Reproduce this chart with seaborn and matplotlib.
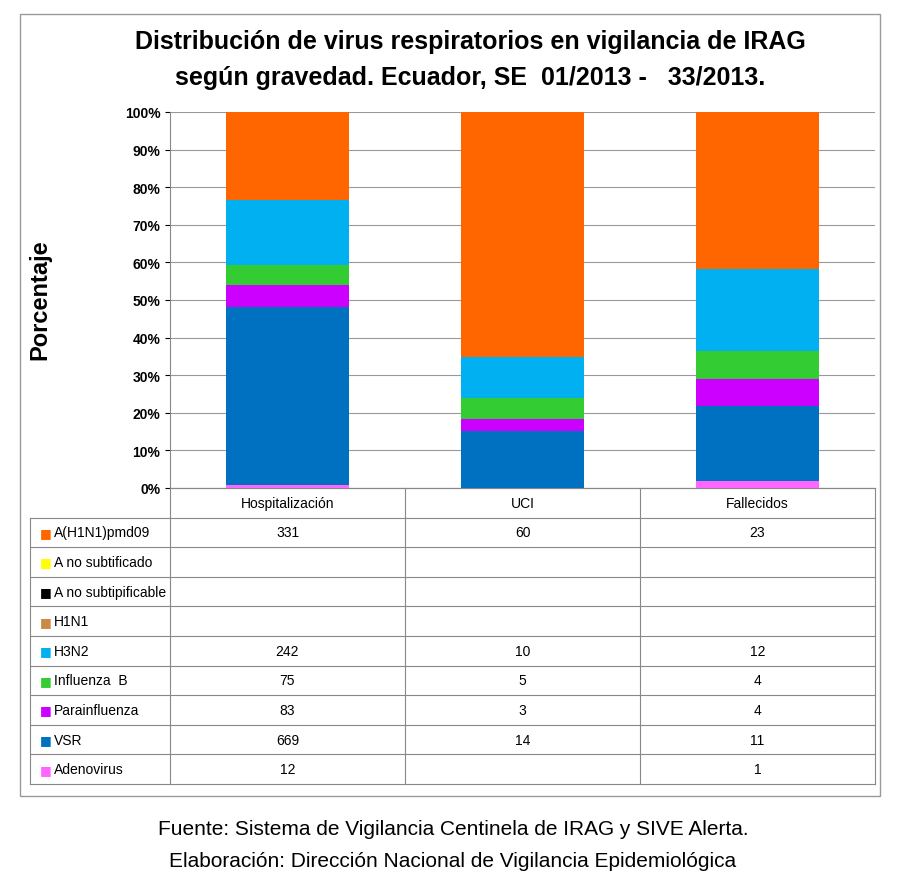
import matplotlib
matplotlib.use("Agg")
import matplotlib.pyplot as plt
import numpy as np
import pandas as pd
import seaborn as sns

groups = ["Hospitalización", "UCI", "Fallecidos"]
viruses = ["A(H1N1)pmd09", "A no subtificado", "A no subtipificable", "H1N1",
           "H3N2", "Influenza  B", "Parainfluenza", "VSR", "Adenovirus"]
counts = {
    "A(H1N1)pmd09": [331, 60, 23],
    "A no subtificado": [None, None, None],
    "A no subtipificable": [None, None, None],
    "H1N1": [None, None, None],
    "H3N2": [242, 10, 12],
    "Influenza  B": [75, 5, 4],
    "Parainfluenza": [83, 3, 4],
    "VSR": [669, 14, 11],
    "Adenovirus": [12, None, 1],
}
colors = {
    "A(H1N1)pmd09": "#FF6600", "A no subtificado": "#FFFF00",
    "A no subtipificable": "#000000", "H1N1": "#CC8844",
    "H3N2": "#00B0F0", "Influenza  B": "#33CC33", "Parainfluenza": "#CC00FF",
    "VSR": "#0070C0", "Adenovirus": "#FF66FF",
}

plt.rcParams["font.family"] = ["Liberation Sans", "DejaVu Sans"]
fig = plt.figure(figsize=(9.06, 8.87), dpi=100)
W, H = 906, 887
ax = fig.add_axes([170 / W, 1 - 489 / H, 705 / W, 376 / H])

vals = np.array([[v or 0 for v in counts[k]] for k in viruses], dtype=float)
pct = vals / vals.sum(axis=0) * 100
bottom = np.zeros(3)
for i in range(len(viruses) - 1, -1, -1):
    df = pd.DataFrame({"g": groups, "p": pct[i]})
    sns.barplot(data=df, x="g", y="p", color=colors[viruses[i]], bottom=bottom,
                width=0.52, saturation=1, ax=ax, zorder=3)
    bottom += pct[i]

ax.set_ylim(0, 100)
ax.set_yticks(range(0, 101, 10))
ax.set_yticklabels([f"{t}%" for t in range(0, 101, 10)], fontsize=10, fontweight="bold")
ax.yaxis.grid(True, color="#999999", linewidth=0.8, zorder=0)
ax.set_axisbelow(True)
ax.set_xticks([])
ax.set_xlabel("")
ax.set_ylabel("")
ax.set_xlim(-0.5, 2.5)
for s in ["top", "right"]:
    ax.spines[s].set_visible(False)
ax.spines["left"].set_color("#888888")
ax.spines["bottom"].set_color("#888888")

# table below the plot (axes coords: x data, y fraction)
trans = ax.get_xaxis_transform()
row_h = 29.6 / 376
left = -0.5 - 3 * (140 / 705)
ytop = 0
nrows = len(viruses) + 1
lc = "#888888"
for r in range(nrows + 1):
    y = ytop - r * row_h
    x0 = -0.5 if r == 0 else left
    ax.plot([x0, 2.5], [y, y], color=lc, lw=0.8, transform=trans, clip_on=False)
for x in [0.5, 1.5, 2.5]:
    ax.plot([x, x], [0, -nrows * row_h], color=lc, lw=0.8, transform=trans, clip_on=False)
ax.plot([left, left], [-row_h, -nrows * row_h], color=lc, lw=0.8, transform=trans, clip_on=False)
ax.plot([-0.5, -0.5], [0, -nrows * row_h], color=lc, lw=0.8, transform=trans, clip_on=False)
for j, g in enumerate(groups):
    ax.text(j, -0.5 * row_h, g, ha="center", va="center", fontsize=10, transform=trans)
for i, v in enumerate(viruses):
    yc = -(i + 1.5) * row_h
    ax.text(left + 0.04, yc, "■", color=colors[v], ha="left", va="center",
            fontsize=9, transform=trans, family="DejaVu Sans")
    ax.text(left + 0.1, yc, v, ha="left", va="center", fontsize=10, transform=trans)
    for j in range(3):
        c = counts[v][j]
        if c is not None:
            ax.text(j, yc, str(c), ha="center", va="center", fontsize=10, transform=trans)

fig.text(40 / W, 1 - 300 / H, "Porcentaje", rotation=90, ha="center", va="center",
         fontsize=17, fontweight="bold")
fig.text(470 / W, 1 - 42 / H, "Distribución de virus respiratorios en vigilancia de IRAG",
         ha="center", va="center", fontsize=18, fontweight="bold")
fig.text(470 / W, 1 - 78 / H, "según gravedad. Ecuador, SE  01/2013 -   33/2013.",
         ha="center", va="center", fontsize=18, fontweight="bold")
fig.patches.append(plt.Rectangle((20 / W, 1 - 797 / H), 860 / W, 782 / H, fill=False,
                                 edgecolor="#999999", lw=1, transform=fig.transFigure))
fig.text(453 / W, 1 - 830 / H, "Fuente: Sistema de Vigilancia Centinela de IRAG y SIVE Alerta.",
         ha="center", va="center", fontsize=15)
fig.text(453 / W, 1 - 862 / H, "Elaboración: Dirección Nacional de Vigilancia Epidemiológica",
         ha="center", va="center", fontsize=15)

fig.savefig("out.png", dpi=100)
